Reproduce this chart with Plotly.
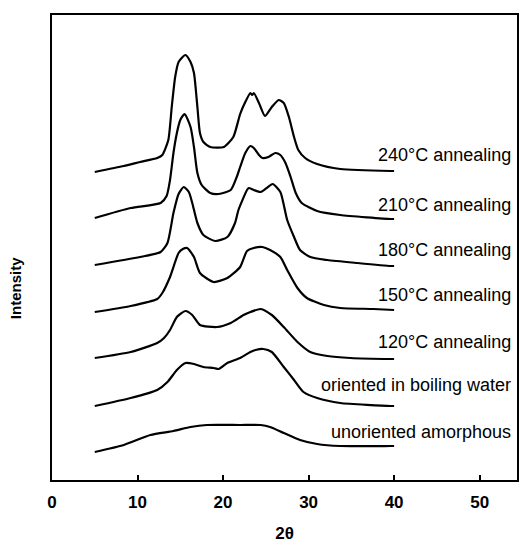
import plotly.graph_objects as go

# 2-theta (degrees) and stacked intensity (arbitrary units, offset per curve)
x_240 = [5.0, 8.4, 10.3, 12.3, 12.9, 13.6, 14.0, 14.4, 14.8, 15.6, 16.2, 16.6, 17.0, 17.3, 17.7, 18.5, 20.1, 21.2, 22.0, 22.6, 23.2, 23.4, 23.6, 24.2, 24.9, 25.7, 26.5, 27.1, 27.7, 28.3, 28.8, 29.6, 31.0, 33.7, 39.6, 40.0]
y_240 = [308, 314, 318, 322, 325, 340, 373, 403, 418, 425, 418, 407, 373, 347, 338, 333, 333, 343, 366, 378, 387, 385, 387, 377, 364, 373, 380, 377, 363, 343, 330, 322, 316, 311, 309, 309]

x_210 = [5.0, 9.2, 12.7, 13.4, 13.8, 14.2, 14.6, 15.0, 15.5, 16.2, 16.6, 17.0, 17.5, 18.5, 19.5, 20.9, 21.6, 22.0, 22.6, 23.2, 23.6, 24.2, 24.6, 25.3, 26.1, 26.7, 27.3, 27.9, 28.5, 29.2, 31.0, 33.7, 39.6, 40.0]
y_210 = [262, 272, 277, 284, 300, 327, 347, 360, 366, 353, 333, 307, 295, 287, 286, 290, 303, 313, 327, 334, 332, 325, 322, 323, 327, 325, 317, 303, 287, 277, 269, 265, 261, 261]

x_180 = [5.0, 10.3, 12.7, 13.5, 14.2, 14.8, 15.4, 16.0, 16.4, 17.0, 17.7, 19.1, 20.5, 21.4, 21.8, 22.8, 23.0, 23.6, 24.4, 25.1, 25.8, 26.7, 27.5, 28.3, 29.0, 30.2, 32.2, 35.7, 39.6, 40.0]
y_180 = [215, 223, 228, 237, 267, 286, 293, 288, 277, 257, 245, 239, 243, 257, 270, 290, 292, 290, 288, 292, 296, 288, 260, 243, 230, 223, 220, 217, 214, 214]

x_150 = [5.0, 9.2, 12.3, 12.9, 13.8, 14.8, 15.3, 15.8, 16.6, 17.3, 18.9, 20.5, 22.0, 22.8, 23.6, 24.6, 25.5, 26.7, 27.5, 28.7, 29.8, 31.8, 33.7, 37.6, 40.0]
y_150 = [168, 174, 181, 187, 203, 227, 231, 232, 223, 207, 198, 202, 213, 229, 232, 233, 230, 223, 210, 192, 182, 175, 172, 171, 170]

x_120 = [5.0, 9.2, 12.3, 13.1, 13.8, 14.6, 15.6, 16.4, 17.3, 19.3, 20.9, 22.4, 23.2, 24.4, 25.7, 27.1, 28.7, 30.2, 32.2, 34.9, 39.6, 40.0]
y_120 = [122, 128, 137, 142, 150, 163, 169, 165, 155, 153, 157, 165, 168, 171, 165, 153, 138, 128, 124, 122, 121, 121]

x_water = [5.0, 9.2, 12.3, 13.5, 14.6, 15.6, 16.6, 17.7, 18.9, 19.5, 20.5, 22.0, 23.2, 23.8, 24.7, 25.7, 27.1, 28.3, 29.4, 31.0, 33.7, 39.6, 40.0]
y_water = [74, 82, 90, 98, 110, 117, 116, 113, 112, 111, 117, 122, 128, 130, 131, 128, 113, 100, 88, 82, 77, 74, 74]

x_amorph = [5.0, 8.4, 11.5, 14.2, 16.2, 18.1, 22.0, 24.4, 25.5, 27.1, 29.0, 31.0, 33.7, 39.6, 40.0]
y_amorph = [28, 35, 45, 49, 53, 55, 55, 55, 53, 47, 40, 36, 34, 34, 34]

labels = ["240°C annealing", "210°C annealing", "180°C annealing", "150°C annealing",
          "120°C annealing", "oriented in boiling water", "unoriented amorphous"]
label_y = [325, 275, 230, 185, 138, 95, 48]

x_ticks = [0, 10, 20, 30, 40, 50]

series = [(x_240, y_240), (x_210, y_210), (x_180, y_180), (x_150, y_150),
          (x_120, y_120), (x_water, y_water), (x_amorph, y_amorph)]

FONT = "Liberation Sans, Arial, sans-serif"

fig = go.Figure()
for (xs, ys), name in zip(series, labels):
    fig.add_trace(go.Scatter(x=xs, y=ys, mode="lines", name=name,
                             line=dict(color="black", width=2.2, shape="spline", smoothing=0.6),
                             showlegend=False, hoverinfo="skip"))

for text, yv in zip(labels, label_y):
    fig.add_annotation(x=53.9, y=yv, xref="x", yref="y", text=text, showarrow=False,
                       xanchor="right", yanchor="middle",
                       font=dict(family=FONT, size=18, color="black"))

# y-axis title placed lower than centre, as in the original
fig.add_annotation(x=-0.077, y=0.413, xref="paper", yref="paper", text="<b>Intensity</b>",
                   textangle=-90, showarrow=False, xanchor="center", yanchor="middle",
                   font=dict(family=FONT, size=15, color="black"))

fig.update_layout(
    width=521, height=543,
    margin=dict(l=52, r=4, t=15, b=63, autoexpand=False),
    paper_bgcolor="white", plot_bgcolor="white",
    font=dict(family=FONT, color="black"),
)
fig.update_xaxes(range=[0, 54.37], tickvals=x_ticks, ticktext=[f"<b>{t}</b>" for t in x_ticks],
                 ticks="inside", ticklen=5, tickwidth=1.5, tickcolor="black",
                 ticklabelstandoff=6, automargin=False,
                 showline=True, linecolor="black", linewidth=2, mirror=True,
                 showgrid=False, zeroline=False,
                 tickfont=dict(family=FONT, size=17, color="black"),
                 title=dict(text="<b>2θ</b>", font=dict(family=FONT, size=17, color="black"), standoff=27))
fig.update_yaxes(range=[0, 465], showticklabels=False, ticks="", automargin=False,
                 showline=True, linecolor="black", linewidth=2, mirror=True,
                 showgrid=False, zeroline=False)

fig.write_html("out.html", config={"displayModeBar": False},
               post_script="document.body.style.margin='0';")
